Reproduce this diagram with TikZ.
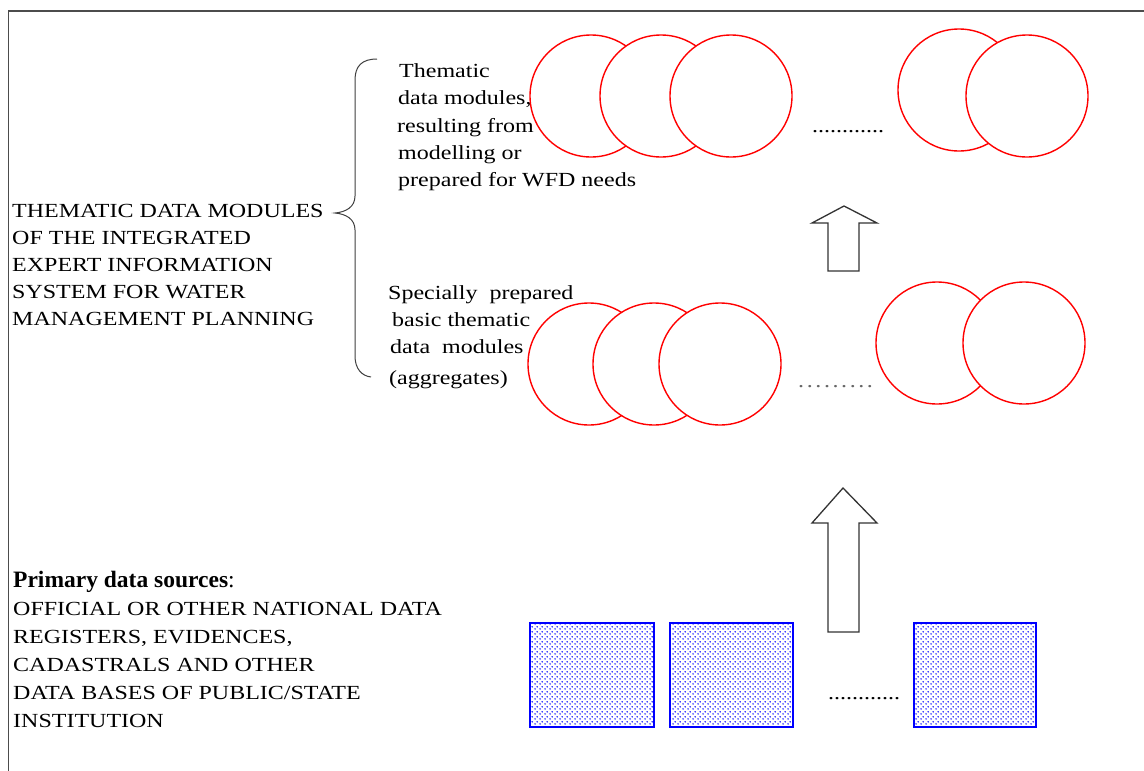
\documentclass[tikz,border=0pt]{standalone}
\usepackage{fontspec}
\setmainfont{Liberation Serif}[FakeStretch=1.2]
\newfontfamily\plainserif{Liberation Serif}
\usetikzlibrary{patterns}
\pgfdeclarepatternformonly{stagdots}{\pgfpointorigin}{\pgfpoint{4.6pt}{4.6pt}}{\pgfpoint{4.6pt}{4.6pt}}{%
  \pgfpathcircle{\pgfpoint{1.15pt}{1.15pt}}{0.85pt}%
  \pgfpathcircle{\pgfpoint{3.45pt}{3.45pt}}{0.85pt}%
  \pgfusepath{fill}}
\tikzset{
  txt/.style={anchor=base west, inner sep=0pt, font=\fontsize{20}{27}\selectfont},
  ring/.style={circle, draw=red, fill=white, line width=1.4pt, minimum size=122pt, inner sep=0pt},
  bluebox/.style={rectangle, draw=blue, line width=1.5pt, pattern=stagdots, pattern color=blue, minimum height=104pt, inner sep=0pt},
  blockarrow/.style={draw=black!80, line width=1.3pt, fill=white, line join=miter},
  frameline/.style={draw=black!70},
  bracestyle/.style={draw=black!75, line width=1pt},
  dotrow/.style={anchor=base west, inner sep=0pt, font=\fontsize{20}{24}\selectfont}
}
\begin{document}
\begin{tikzpicture}[x=1pt, y=-1pt]
\useasboundingbox (0,0) rectangle (1144,771);
\fill[white] (0,0) rectangle (1144,771);
% frame
\draw[frameline, line width=2.2pt] (8,11) -- (1144,11);
\draw[frameline, line width=1pt] (8,11) -- (8,771);

% left label
\node[txt] (l1) at (12,217) {THEMATIC DATA MODULES};
\node[txt] (l2) at (12,244) {OF THE INTEGRATED};
\node[txt] (l3) at (12,271) {EXPERT INFORMATION};
\node[txt] (l4) at (12,298) {SYSTEM FOR WATER};
\node[txt] (l5) at (12,325) {MANAGEMENT PLANNING};

% brace
\draw[bracestyle] (377,59) .. controls (362,59) and (355,66) .. (355,80) -- (355,196)
  .. controls (355,207) and (346,212) .. (335,213)
  .. controls (346,214) and (355,219) .. (355,230) -- (355,356)
  .. controls (355,369) and (362,376) .. (371,377);

% upper text
\node[txt] (t1) at (399,77) {Thematic};
\node[txt] (t2) at (398,104) {data modules,};
\node[txt] (t3) at (397,132) {resulting from};
\node[txt] (t4) at (398,159) {modelling or};
\node[txt] (t5) at (398,186) {prepared for WFD needs};

% middle text
\node[txt] (s1) at (388,299) {Specially\ \ prepared};
\node[txt] (s2) at (392,326) {basic thematic};
\node[txt] (s3) at (390,353) {data\ \ modules};
\node[txt] (s4) at (389,384) {(aggregates)};

% top row circles
\node[ring] (a1) at (591,96) {};
\node[ring] (a2) at (661,96) {};
\node[ring] (a3) at (731,96) {};
\node[dotrow] (adots) at (812,132) {............};
\node[ring] (a4) at (959,90) {};
\node[ring] (a5) at (1027,96) {};

% middle row circles
\node[ring] (b1) at (589,364) {};
\node[ring] (b2) at (654,364) {};
\node[ring] (b3) at (720,364) {};
\node[dotrow, text=black!60] (bdots) at (798,387) {.\kern2.6pt.\kern2.6pt.\kern2.6pt.\kern2.6pt.\kern2.6pt.\kern2.6pt.\kern2.6pt.\kern2.6pt.};
\node[ring] (b4) at (937,343) {};
\node[ring] (b5) at (1024,343) {};

% block arrows
\draw[blockarrow] (828,271) -- (828,223) -- (812,223) -- (844,206) -- (877,223) -- (859,223) -- (859,271) -- cycle;
\draw[blockarrow] (828,632) -- (828,523) -- (812,523) -- (843,488) -- (877,523) -- (859,523) -- (859,632) -- cycle;

% primary data sources
\node[anchor=base west, inner sep=0pt] (p0) at (13,587) {\plainserif\fontsize{23.5}{28}\selectfont\textbf{Primary data sources}:};
\node[txt] (p1) at (13,615) {OFFICIAL OR OTHER NATIONAL DATA};
\node[txt] (p2) at (13,643) {REGISTERS, EVIDENCES,};
\node[txt] (p3) at (13,671) {CADASTRALS AND OTHER};
\node[txt] (p4) at (13,699) {DATA BASES OF PUBLIC/STATE};
\node[txt] (p5) at (13,727) {INSTITUTION};

% data source boxes
\node[bluebox, minimum width=124pt] (d1) at (592,675) {};
\node[bluebox, minimum width=123pt] (d2) at (731.5,675) {};
\node[dotrow] (ddots) at (828,699) {............};
\node[bluebox, minimum width=122pt] (d3) at (975,675) {};
\end{tikzpicture}
\end{document}
